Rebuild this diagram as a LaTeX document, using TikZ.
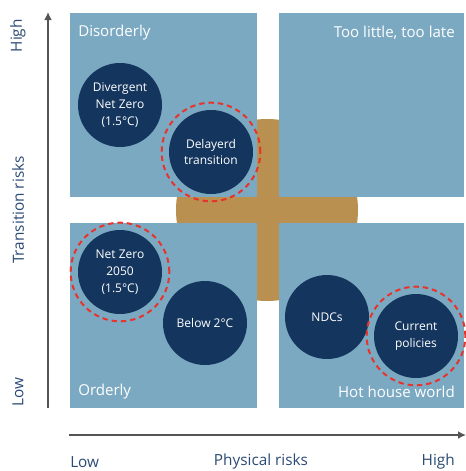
\documentclass[tikz,border=0pt]{standalone}
\usepackage{fontspec}
\setmainfont{Open Sans}
\usetikzlibrary{arrows.meta}
\definecolor{quad}{HTML}{7BA9C2}
\definecolor{dark}{HTML}{14365E}
\definecolor{gold}{HTML}{B9904F}
\definecolor{reddash}{HTML}{E8332D}
\definecolor{axisgray}{HTML}{555555}
\definecolor{lbl}{HTML}{2B4A74}
\begin{document}
\begin{tikzpicture}[x=0.75pt,y=-0.75pt,
  quadbox/.style={fill=quad,draw=none},
  scen/.style={circle,fill=dark,text=white,minimum size=63pt,inner sep=0pt,align=center,font=\fontsize{9}{12.7}\selectfont},
  ring/.style={circle,draw=reddash,line width=1.5pt,dash pattern=on 4pt off 3pt,minimum size=74pt,inner sep=0pt},
  qlabel/.style={text=white,font=\fontsize{11.3}{13}\selectfont,inner sep=0pt},
  axlabel/.style={text=lbl,font=\fontsize{11.5}{13}\selectfont,inner sep=0pt},
  axline/.style={draw=axisgray,line width=1.3pt,-{Latex[length=6pt,width=6pt]}}
]
\useasboundingbox (0,0) rectangle (465,471);
% gold disk behind the quadrants
\fill[gold] (267,210) circle[radius=91];
% quadrants
\fill[quadbox] (70,13) rectangle (257,197);
\fill[quadbox] (279,13) rectangle (464,197);
\fill[quadbox] (70,223) rectangle (257,408);
\fill[quadbox] (279,223) rectangle (464,408);
% quadrant labels
\node[qlabel,anchor=west] (dis) at (78,33) {Disorderly};
\node[qlabel,anchor=east] (tlt) at (455,33) {Too little, too late};
\node[qlabel,anchor=west] (ord) at (78,392) {Orderly};
\node[qlabel,anchor=east] (hhw) at (455,392) {Hot house world};
% scenarios
\node[scen] (dnz) at (120,105) {Divergent\\Net Zero\\(1.5°C)};
\node[scen] (del) at (211,152) {Delayerd\\transition};
\node[ring] (delr) at (211,152) {};
\node[scen] (nz) at (120,272) {Net Zero\\2050\\(1.5°C)};
\node[ring] (nzr) at (120,272) {};
\node[scen] (b2) at (205,323) {Below 2°C};
\node[scen] (ndc) at (327,317) {NDCs};
\node[scen] (cp) at (416,336) {Current\\policies};
\node[ring] (cpr) at (416,336) {};
% axes
\coordinate (vs) at (48,408);
\coordinate (ve) at (48,12);
\coordinate (hs) at (69,435);
\coordinate (he) at (466,435);
\draw[axline] (vs) -- (ve);
\draw[axline] (hs) -- (he);
% axis labels
\node[axlabel,rotate=90,anchor=east] (vhigh) at (18,19) {High};
\node[axlabel,rotate=90] (vtr) at (18,210) {Transition risks};
\node[axlabel,rotate=90,anchor=west] (vlow) at (18,407) {Low};
\node[axlabel,anchor=west] (hlow) at (70,462) {Low};
\node[axlabel] (hphy) at (261,462) {Physical risks};
\node[axlabel,anchor=east] (hhigh) at (455,462) {High};
\end{tikzpicture}
\end{document}
